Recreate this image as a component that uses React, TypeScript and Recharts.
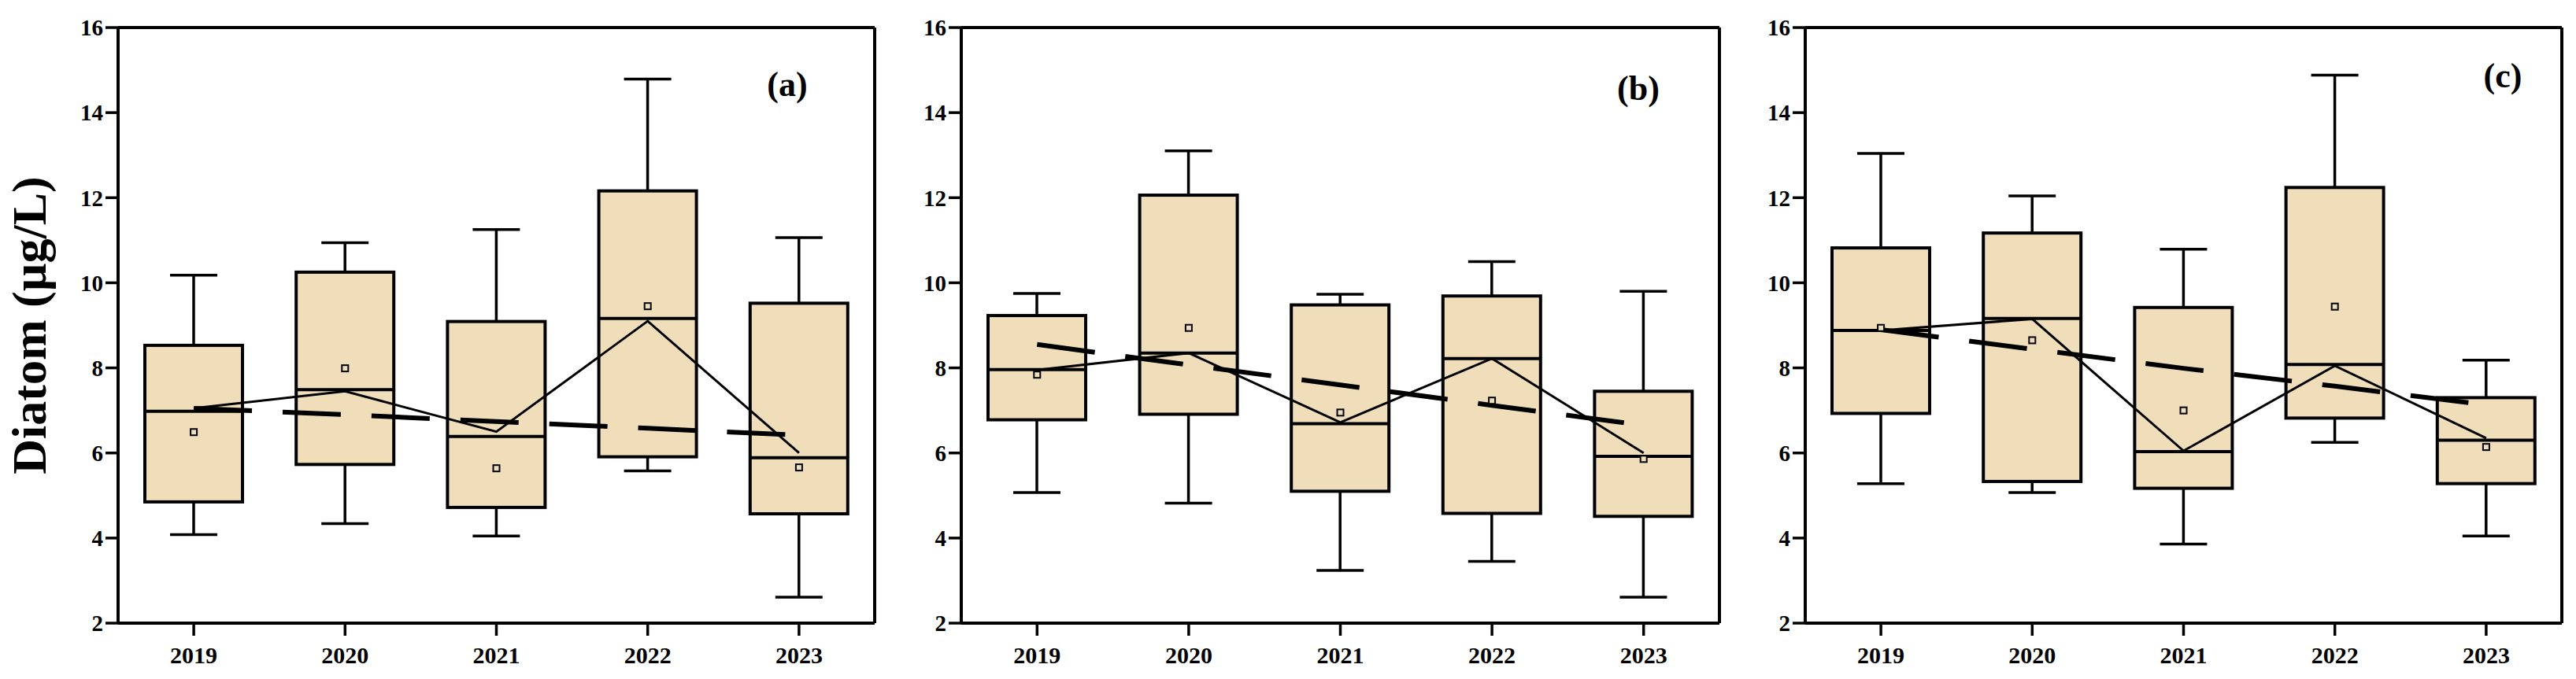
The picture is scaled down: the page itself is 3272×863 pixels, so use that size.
import React from 'react';
import { ComposedChart, Bar, Line, Scatter, XAxis, YAxis } from 'recharts';

const years = ['2019', '2020', '2021', '2022', '2023'];
const yTicks = [2, 4, 6, 8, 10, 12, 14, 16];

// Panel (a)
const aMin = [4.08, 4.34, 4.05, 5.58, 2.61];
const aQ1 = [4.85, 5.73, 4.72, 5.91, 4.57];
const aMedian = [6.98, 7.49, 6.39, 9.16, 5.89];
const aQ3 = [8.53, 10.25, 9.09, 12.16, 9.52];
const aMax = [10.18, 10.94, 11.25, 14.79, 11.06];
const aMean = [6.49, 7.99, 5.64, 9.45, 5.66];
const aLine = [7.05, 7.45, 6.5, 9.1, 6.0];
const aTrend = [7.05, 6.9, 6.74, 6.58, 6.42];

// Panel (b)
const bMin = [5.07, 4.82, 3.24, 3.45, 2.61];
const bQ1 = [6.78, 6.91, 5.1, 4.58, 4.51];
const bMedian = [7.96, 8.35, 6.69, 8.22, 5.92];
const bQ3 = [9.23, 12.06, 9.48, 9.69, 7.45];
const bMax = [9.75, 13.1, 9.73, 10.5, 9.8];
const bMean = [7.84, 8.94, 6.95, 7.23, 5.86];
const bLine = [7.95, 8.35, 6.72, 8.22, 6.0];
const bTrend = [8.55, 8.07, 7.6, 7.12, 6.65];

// Panel (c)
const cMin = [5.28, 5.07, 3.86, 6.25, 4.05];
const cQ1 = [6.93, 5.33, 5.17, 6.82, 5.28];
const cMedian = [8.88, 9.16, 6.03, 8.08, 6.3];
const cQ3 = [10.82, 11.17, 9.42, 12.24, 7.3];
const cMax = [13.04, 12.04, 10.79, 14.88, 8.18];
const cMean = [8.94, 8.65, 7.0, 9.44, 6.14];
const cLine = [8.88, 9.15, 6.05, 8.05, 6.35];
const cTrend = [8.9, 8.44, 7.99, 7.57, 7.13];

const FILL = '#F0DEBB';
const FONT = 'Liberation Serif, Times New Roman, serif';

function build(min, q1, med, q3, max, mean, line, trend) {
  return years.map((y, i) => ({
    year: y,
    min: min[i],
    q1: q1[i],
    median: med[i],
    q3: q3[i],
    max: max[i],
    mean: mean[i],
    line: line[i],
    trend: trend[i],
  }));
}

const panels = [
  { key: 'a', label: '(a)', data: build(aMin, aQ1, aMedian, aQ3, aMax, aMean, aLine, aTrend), left: 0, plotW: 961, right: 19, lblDx: 111, lblDy: 87, title: true },
  { key: 'b', label: '(b)', data: build(bMin, bQ1, bMedian, bQ3, bMax, bMean, bLine, bTrend), left: 1071, plotW: 963, right: 19, lblDx: 103, lblDy: 92, title: false },
  { key: 'c', label: '(c)', data: build(cMin, cQ1, cMedian, cQ3, cMax, cMean, cLine, cTrend), left: 2143, plotW: 961, right: 18, lblDx: 75, lblDy: 76, title: false },
];

const BoxShape = (props: any) => {
  const { x, y, width, height, payload } = props;
  if (payload == null || x == null) return null;
  const top = Math.min(y, y + height);
  const h = Math.abs(height);
  const { min, max, q1, q3, median } = payload;
  const py = (v: number) => top + ((max - v) / (max - min)) * h;
  const cx = x + width / 2;
  const capW = 60;
  return (
    <g>
      <line x1={cx} x2={cx} y1={py(max)} y2={py(q3)} stroke="#000" strokeWidth={3.5} />
      <line x1={cx} x2={cx} y1={py(q1)} y2={py(min)} stroke="#000" strokeWidth={3.5} />
      <line x1={cx - capW / 2} x2={cx + capW / 2} y1={py(max)} y2={py(max)} stroke="#000" strokeWidth={3.5} />
      <line x1={cx - capW / 2} x2={cx + capW / 2} y1={py(min)} y2={py(min)} stroke="#000" strokeWidth={3.5} />
      <rect x={x} y={py(q3)} width={width} height={py(q1) - py(q3)} fill={FILL} stroke="#000" strokeWidth={4} />
      <line x1={x} x2={x + width} y1={py(median)} y2={py(median)} stroke="#000" strokeWidth={4} />
    </g>
  );
};

const MeanShape = (props: any) => {
  const { cx, cy } = props;
  if (cx == null || cy == null) return null;
  return <rect x={cx - 4} y={cy - 4} width={8} height={8} fill={FILL} stroke="#000" strokeWidth={2} />;
};

const tickStyle = { fill: '#000', fontSize: 29, fontFamily: FONT, fontWeight: 'bold' as const };
const xTickStyle = { fill: '#000', fontSize: 30, fontFamily: FONT, fontWeight: 'bold' as const };

function Panel({ p }: { p: any }) {
  const width = 150 + p.plotW + p.right;
  return (
    <div style={{ position: 'absolute', left: p.left, top: 0, width, height: 863 }}>
      <ComposedChart
        width={width}
        height={863}
        data={p.data}
        margin={{ top: 34, right: p.right - 1, bottom: 11, left: 90 }}
      >
        <XAxis
          dataKey="year"
          type="category"
          height={60}
          tickSize={16}
          tickMargin={14}
          tick={xTickStyle}
          tickLine={{ stroke: '#000', strokeWidth: 3.5 }}
          axisLine={{ stroke: '#000', strokeWidth: 4 }}
          interval={0}
        />
        <XAxis
          xAxisId="top"
          dataKey="year"
          orientation="top"
          height={1}
          tick={false}
          tickLine={false}
          axisLine={{ stroke: '#000', strokeWidth: 4 }}
          label={{
            content: (lp: any) => {
              const vb = lp.viewBox || {};
              const vx = (vb.x ?? 150) + (vb.width ?? p.plotW) - p.lblDx;
              const vy = 35 + p.lblDy;
              return (
                <text x={vx} y={vy} textAnchor="middle" fontFamily={FONT} fontWeight="bold" fontSize={44} fill="#000">
                  {p.label}
                </text>
              );
            },
          }}
        />
        <YAxis
          type="number"
          domain={[2, 16]}
          ticks={yTicks}
          width={60}
          tickSize={16}
          tickMargin={3}
          tick={tickStyle}
          tickLine={{ stroke: '#000', strokeWidth: 3.5 }}
          axisLine={{ stroke: '#000', strokeWidth: 4 }}
          interval={0}
          label={
            p.title
              ? {
                  content: (lp: any) => {
                    const vb = lp.viewBox || {};
                    const vx = 58;
                    const vy = (vb.y ?? 35) + (vb.height ?? 757) / 2;
                    return (
                      <text
                        x={vx}
                        y={vy}
                        transform={`rotate(-90, ${vx}, ${vy})`}
                        textAnchor="middle"
                        fontFamily={FONT}
                        fontWeight="bold"
                        fontSize={62}
                        fill="#000"
                      >
                        Diatom (µg/L)
                      </text>
                    );
                  },
                }
              : undefined
          }
        />
        <YAxis
          yAxisId="right"
          orientation="right"
          type="number"
          domain={[2, 16]}
          width={1}
          tick={false}
          tickLine={false}
          axisLine={{ stroke: '#000', strokeWidth: 4 }}
        />
        <Bar
          dataKey={(d: any) => [d.min, d.max]}
          barSize={124}
          shape={BoxShape}
          isAnimationActive={false}
        />
        <Line
          dataKey="line"
          type="linear"
          stroke="#000"
          strokeWidth={3}
          dot={false}
          activeDot={false}
          isAnimationActive={false}
        />
        <Line
          dataKey="trend"
          type="linear"
          stroke="#000"
          strokeWidth={6}
          strokeDasharray="74 39"
          dot={false}
          activeDot={false}
          isAnimationActive={false}
        />
        <Scatter dataKey="mean" shape={MeanShape} isAnimationActive={false} />
      </ComposedChart>
    </div>
  );
}

export default function App() {
  return (
    <div style={{ position: 'absolute', left: 0, top: 0, width: 3272, height: 863, background: '#fff' }}>
      {panels.map((p) => (
        <Panel key={p.key} p={p} />
      ))}
    </div>
  );
}
